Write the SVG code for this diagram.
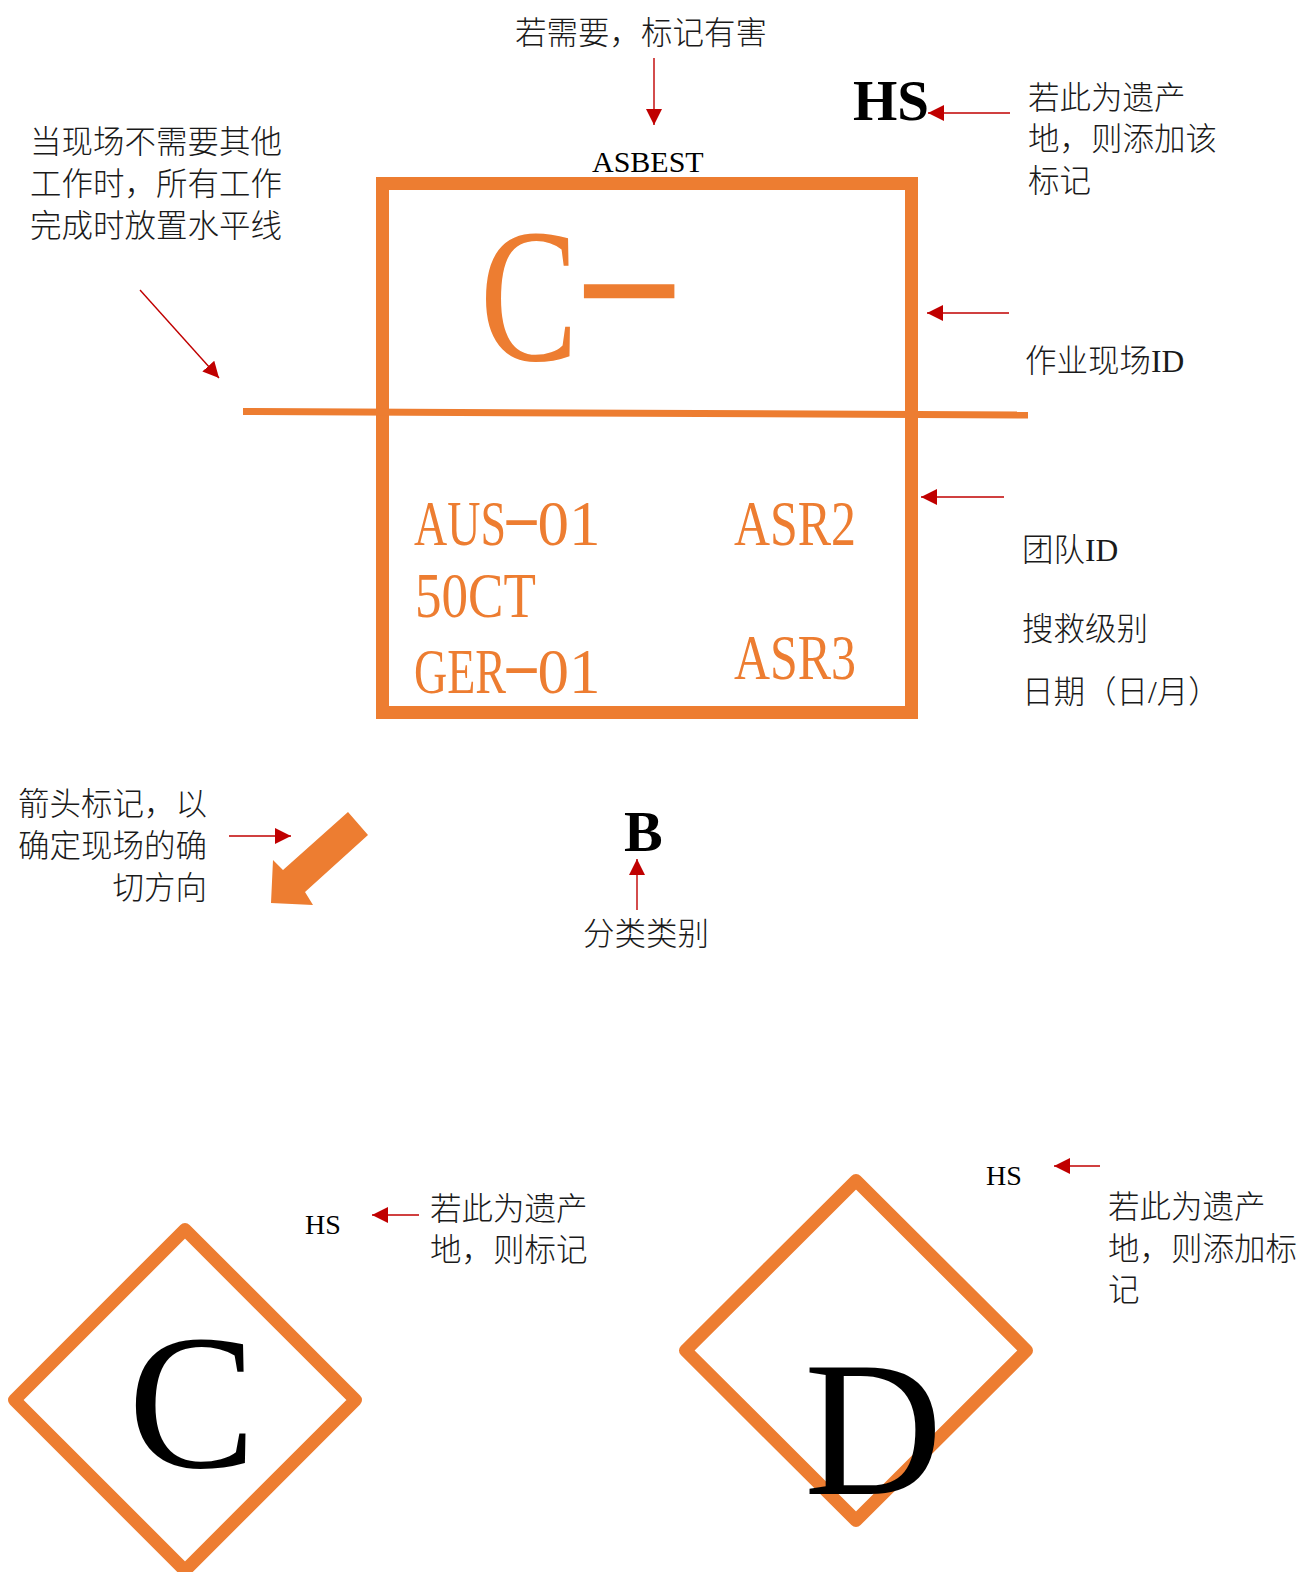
<svg xmlns="http://www.w3.org/2000/svg" width="1304" height="1572" viewBox="0 0 1304 1572">
<style>
.lbl{font-family:"Liberation Serif","Noto Sans CJK SC",serif;font-size:31.5px;font-weight:300;fill:#1a1a1a;}
.or{font-family:"Liberation Serif",serif;fill:#ED7D31;}
.blk{font-family:"Liberation Serif",serif;fill:#000;}
.conn{stroke:#C00000;stroke-width:1.4;fill:none;marker-end:url(#ah);}
.orS{fill:none;stroke:#ED7D31;}
</style>
<defs>
<marker id="ah" viewBox="0 0 16 16" refX="16" refY="8" markerWidth="16" markerHeight="16" markerUnits="userSpaceOnUse" orient="auto"><path d="M0,0 L16,8 L0,16 z" fill="#C00000"/></marker>
</defs>
<rect width="1304" height="1572" fill="#fff"/>

<g id="sign-box">
<rect class="orS" x="382.5" y="183.5" width="529" height="529" stroke-width="13"/>
<text class="or" font-size="190" y="360"><tspan x="480" textLength="98" lengthAdjust="spacingAndGlyphs">C</tspan><tspan x="571" dy="-24" textLength="116" lengthAdjust="spacingAndGlyphs">-</tspan></text>
<text class="or" font-size="63" y="545"><tspan x="414" textLength="92" lengthAdjust="spacingAndGlyphs">AUS</tspan><tspan x="502" dy="-7" textLength="39" lengthAdjust="spacingAndGlyphs">-</tspan><tspan x="537.5" dy="7" textLength="63" lengthAdjust="spacingAndGlyphs">01</tspan></text>
<text class="or" font-size="63" x="734" y="545" textLength="122" lengthAdjust="spacingAndGlyphs">ASR2</text>
<text class="or" font-size="63" x="415" y="617" textLength="121" lengthAdjust="spacingAndGlyphs">50CT</text>
<text class="or" font-size="63" y="693"><tspan x="414" textLength="92" lengthAdjust="spacingAndGlyphs">GER</tspan><tspan x="502" dy="-7" textLength="39" lengthAdjust="spacingAndGlyphs">-</tspan><tspan x="537.5" dy="7" textLength="63" lengthAdjust="spacingAndGlyphs">01</tspan></text>
<text class="or" font-size="63" x="734" y="679" textLength="122" lengthAdjust="spacingAndGlyphs">ASR3</text>
</g>
<g id="horizontal-line">
<line x1="243" y1="411.5" x2="1028" y2="415" stroke="#ED7D31" stroke-width="7"/>
</g>
<g id="asbest"><text class="blk" font-size="30" x="592" y="172">ASBEST</text></g>
<g id="hs-big"><text class="blk" font-size="57" font-weight="bold" x="853" y="120">HS</text></g>
<g id="b-label"><text class="blk" font-size="58" font-weight="bold" x="624" y="851">B</text></g>

<g id="direction-arrow">
<polygon points="348,812 283,870 273,860 271,903 313,905 305,892 368,835" fill="#ED7D31"/>
</g>

<g id="label-hazard"><text class="lbl" x="515" y="44">若需要，标记有害</text></g>
<g id="label-hs"><text class="lbl" x="1028" y="109">若此为遗产</text><text class="lbl" x="1028" y="150">地，则添加该</text><text class="lbl" x="1028" y="192">标记</text></g>
<g id="label-line"><text class="lbl" x="30" y="153">当现场不需要其他</text><text class="lbl" x="30" y="195">工作时，所有工作</text><text class="lbl" x="30" y="237">完成时放置水平线</text></g>
<g id="label-site"><text class="lbl" x="1025" y="372">作业现场ID</text></g>
<g id="label-team"><text class="lbl" x="1022" y="561">团队ID</text><text class="lbl" x="1022" y="640">搜救级别</text><text class="lbl" x="1022" y="703">日期（日/月）</text></g>
<g id="label-arrow"><text class="lbl" text-anchor="end" x="207" y="815">箭头标记，以</text><text class="lbl" text-anchor="end" x="207" y="857">确定现场的确</text><text class="lbl" text-anchor="end" x="207" y="899">切方向</text></g>
<g id="label-class"><text class="lbl" x="583" y="945">分类类别</text></g>

<g id="diamond-c">
<polygon class="orS" points="185,1229.5 355.5,1400 185,1570.5 14.5,1400" stroke-width="13" stroke-linejoin="round"/>
<text class="blk" font-size="192" x="128" y="1467">C</text>
</g>
<g id="hs-small-c"><text class="blk" font-size="28" x="305" y="1234">HS</text></g>
<g id="label-hs-c"><text class="lbl" x="430" y="1220">若此为遗产</text><text class="lbl" x="430" y="1261">地，则标记</text></g>

<g id="diamond-d">
<polygon class="orS" points="856,1180.5 1026.5,1350.5 856,1520.5 685.5,1350.5" stroke-width="13" stroke-linejoin="round"/>
<text class="blk" font-size="192" x="804" y="1494">D</text>
</g>
<g id="hs-small-d"><text class="blk" font-size="28" x="986" y="1185">HS</text></g>
<g id="label-hs-d"><text class="lbl" x="1108" y="1218">若此为遗产</text><text class="lbl" x="1108" y="1260">地，则添加标</text><text class="lbl" x="1108" y="1301">记</text></g>

<g id="connectors">
<line class="conn" x1="654" y1="58" x2="654" y2="125"/>
<line class="conn" x1="1010" y1="113" x2="928" y2="113"/>
<line class="conn" x1="1009" y1="313" x2="927" y2="313"/>
<line class="conn" x1="1004" y1="497" x2="921" y2="497"/>
<line class="conn" x1="140" y1="290" x2="219" y2="378"/>
<line class="conn" x1="229" y1="836" x2="291" y2="836"/>
<line class="conn" x1="637" y1="910" x2="637" y2="859"/>
<line class="conn" x1="419" y1="1215" x2="372" y2="1215"/>
<line class="conn" x1="1100" y1="1166" x2="1054" y2="1166"/>
</g>
</svg>
